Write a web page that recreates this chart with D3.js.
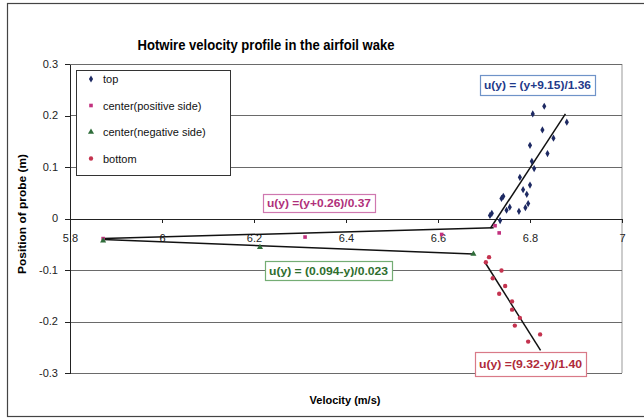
<!DOCTYPE html>
<html lang="en">
<head>
<meta charset="utf-8">
<title>Hotwire velocity profile</title>
<script src="https://cdn.jsdelivr.net/npm/d3@7"></script>
<style>
body { margin: 0; background: #fff; }
svg { font-family: "Liberation Sans", Arial, sans-serif; }
.grid line { stroke: #6a6a6a; stroke-width: 1; }
.axis path, .axis line { stroke: #222; shape-rendering: crispEdges; }
.axis text { font-size: 11px; fill: #222; }
</style>
</head>
<body>
<svg width="644" height="419"></svg>
<script>

// values (velocity m/s, position m)
var topU = [6.806, 6.831, 6.880, 6.827, 6.851, 6.800, 6.838, 6.804, 6.809, 6.778, 6.800,
            6.785, 6.793, 6.796, 6.790, 6.776, 6.738, 6.713, 6.717, 6.735, 6.749, 6.756, 6.742];
var topY = [0.203, 0.218, 0.187, 0.172, 0.156, 0.142, 0.126, 0.111, 0.097, 0.080, 0.065,
            0.056, 0.047, 0.029, 0.021, 0.014, 0.039, 0.006, 0.010, -0.004, 0.016, 0.022, 0.043];

var posU = [5.872, 6.311, 6.608, 6.724, 6.733];
var posY = [-0.039, -0.036, -0.031, -0.014, -0.028];

var negU = [5.872, 6.213, 6.677];
var negY = [-0.043, -0.056, -0.069];

var botU = [6.711, 6.704, 6.738, 6.719, 6.746, 6.733, 6.761, 6.761, 6.778, 6.767, 6.822, 6.796];
var botY = [-0.075, -0.085, -0.101, -0.116, -0.131, -0.146, -0.161, -0.177, -0.193, -0.208, -0.225, -0.239];

// trend line end points
var topFit = [[6.714, -0.019], [6.877, 0.203]];
var posFit = [[5.872, -0.039], [6.721, -0.018]];
var negFit = [[5.872, -0.041], [6.677, -0.069]];
var botFit = [[6.702, -0.085], [6.823, -0.256]];

var xTicks = [5.8, 6, 6.2, 6.4, 6.6, 6.8, 7];
var yTicks = [-0.3, -0.2, -0.1, 0, 0.1, 0.2, 0.3];
var xTickLabels = ["5.8", "6", "6.2", "6.4", "6.6", "6.8", "7"];
var yTickLabels = ["-0.3", "-0.2", "-0.1", "0", "0.1", "0.2", "0.3"];

var seriesNames = ["top", "center(positive side)", "center(negative side)", "bottom"];
var equations = ["u(y) = (y+9.15)/1.36", "u(y) =(y+0.26)/0.37", "u(y) = (0.094-y)/0.023", "u(y) =(9.32-y)/1.40"];

var svg = d3.select("svg"),
    plot = {left: 70, right: 622, top: 64, bottom: 373};

var x = d3.scaleLinear().domain([5.8, 7]).range([plot.left, plot.right]);
var y = d3.scaleLinear().domain([-0.3, 0.3]).range([plot.bottom, plot.top]);

// outer chart frame
svg.append("rect")
    .attr("x", 7.5).attr("y", 3.5).attr("width", 700).attr("height", 413)
    .attr("fill", "none").attr("stroke", "#444").attr("stroke-width", 1.2);

// title
svg.append("text")
    .attr("x", 266).attr("y", 50)
    .attr("text-anchor", "middle")
    .attr("font-size", 15.5).attr("font-weight", "bold")
    .attr("textLength", 257).attr("lengthAdjust", "spacingAndGlyphs")
    .text("Hotwire velocity profile in the airfoil wake");

// plot border on right
svg.append("line")
    .attr("x1", plot.right).attr("x2", plot.right)
    .attr("y1", plot.top).attr("y2", plot.bottom)
    .attr("stroke", "#999");

// gridlines
svg.append("g").attr("class", "grid")
  .selectAll("line").data(yTicks).enter().append("line")
    .attr("x1", plot.left).attr("x2", plot.right)
    .attr("y1", function(d) { return Math.round(y(d)) + 0.5; })
    .attr("y2", function(d) { return Math.round(y(d)) + 0.5; });

// y axis
var yAxis = svg.append("g")
    .attr("class", "axis")
    .attr("transform", "translate(" + plot.left + ",0)")
    .call(d3.axisLeft(y).tickValues(yTicks).tickSize(5).tickSizeOuter(0).tickPadding(7)
      .tickFormat(function(d, i) { return yTickLabels[i]; }));
yAxis.selectAll("text").attr("dy", "0.3em");

// x axis at y = 0
var xAxis = svg.append("g")
    .attr("class", "axis")
    .attr("transform", "translate(0," + y(0) + ")")
    .call(d3.axisBottom(x).tickValues(xTicks).tickSize(4).tickSizeOuter(0).tickPadding(12)
      .tickFormat(function(d, i) { return xTickLabels[i]; }));
xAxis.select(".domain").attr("stroke", "#222");

// axis titles
svg.append("text")
    .attr("transform", "translate(26,214) rotate(-90)")
    .attr("text-anchor", "middle")
    .attr("font-size", 11).attr("font-weight", "bold")
    .attr("textLength", 120).attr("lengthAdjust", "spacingAndGlyphs")
    .text("Position of probe (m)");

svg.append("text")
    .attr("x", 345).attr("y", 404)
    .attr("text-anchor", "middle")
    .attr("font-size", 11).attr("font-weight", "bold")
    .text("Velocity (m/s)");

// trend lines
var line = d3.line()
    .x(function(d) { return x(d[0]); })
    .y(function(d) { return y(d[1]); });

[topFit, posFit, negFit, botFit].forEach(function(f) {
  svg.append("path")
      .attr("d", line(f))
      .attr("fill", "none")
      .attr("stroke", "#111")
      .attr("stroke-width", 1.5);
});

// series
var colors = ["#1e2a63", "#c2317f", "#2f6d3a", "#c4334f"];
var shapes = [d3.symbolDiamond, d3.symbolSquare, d3.symbolTriangle, d3.symbolCircle];
var sizes = [15, 13, 16, 15];

function drawSeries(us, ys, i) {
  svg.append("g").selectAll("path")
      .data(us).enter().append("path")
      .attr("transform", function(d, k) { return "translate(" + x(d) + "," + y(ys[k]) + ")"; })
      .attr("d", d3.symbol().type(shapes[i]).size(sizes[i]))
      .attr("fill", colors[i]);
}
drawSeries(topU, topY, 0);
drawSeries(posU, posY, 1);
drawSeries(negU, negY, 2);
drawSeries(botU, botY, 3);

// legend
var legend = svg.append("g");
legend.append("rect")
    .attr("x", 76.5).attr("y", 70.5).attr("width", 154).attr("height", 105)
    .attr("fill", "#fff").attr("stroke", "#333");
seriesNames.forEach(function(name, i) {
  var ly = 79 + i * 26.5;
  legend.append("path")
      .attr("transform", "translate(91," + ly + ")")
      .attr("d", d3.symbol().type(shapes[i]).size(sizes[i]))
      .attr("fill", colors[i]);
  legend.append("text")
      .attr("x", 103).attr("y", ly + 4)
      .attr("font-size", 11)
      .attr("fill", "#111")
      .text(name);
});

// equation boxes
var boxes = [
  {x: 480, y: 75, w: 115, h: 20, border: "#6f93c8", text: "#1f3a8a"},
  {x: 263, y: 194, w: 112, h: 18, border: "#cf78b0", text: "#b0307a"},
  {x: 265, y: 261, w: 127, h: 19, border: "#74ad74", text: "#2e6e2e"},
  {x: 475, y: 352, w: 111, h: 24, border: "#d97a88", text: "#b02a3a"}
];
boxes.forEach(function(b, i) {
  svg.append("rect")
      .attr("x", b.x + 0.5).attr("y", b.y + 0.5).attr("width", b.w).attr("height", b.h)
      .attr("fill", "#fff").attr("stroke", b.border).attr("stroke-width", 1.2);
  svg.append("text")
      .attr("x", b.x + b.w / 2).attr("y", b.y + b.h / 2 + 4)
      .attr("text-anchor", "middle")
      .attr("font-size", 11).attr("font-weight", "bold")
      .attr("textLength", b.w - 8).attr("lengthAdjust", "spacingAndGlyphs")
      .attr("fill", b.text)
      .text(equations[i]);
});

</script>
</body>
</html>
